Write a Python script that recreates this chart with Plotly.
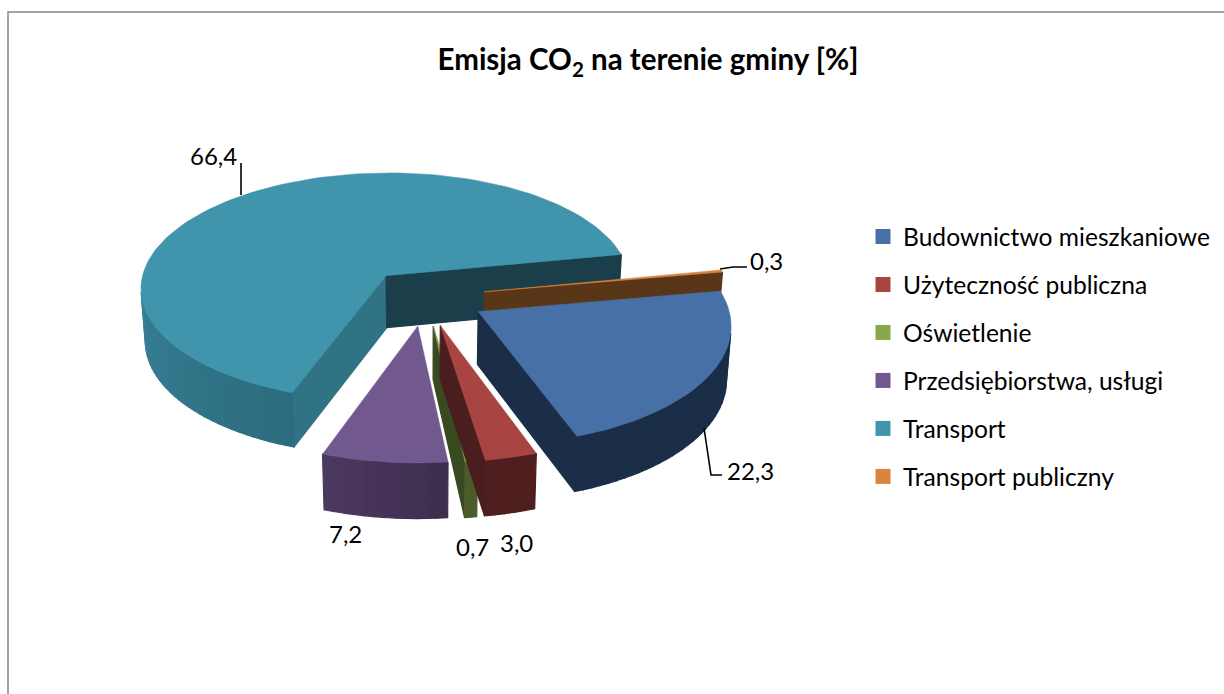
import math
import plotly.graph_objects as go

# ---- data ----
categories = ["Budownictwo mieszkaniowe", "Użyteczność publiczna", "Oświetlenie",
              "Przedsiębiorstwa, usługi", "Transport", "Transport publiczny"]
values = [22.3, 3.0, 0.7, 7.2, 66.4, 0.3]
title_text = "<b>Emisja CO<sub>2</sub> na terenie gminy [%]</b>"

# ---- styles ----
top_colors = ["#4670A6", "#A84442", "#89A84E", "#71588F", "#4095AD", "#DB843D"]
start_wall_colors = ["#1B2E48", "#4A1E1E", "#3A4A20", "#3B2E50", "#307385", "#5A3618"]
end_wall_colors = ["#1B2E48", "#4A1E1E", "#3A4A20", "#3B2E50", "#1A3E4A", "#5A3618"]
rim_from = ["#1B2E48", "#4E1F1E", "#4A5C2A", "#3D2E4E", "#2D6C7E", "#5A3618"]
rim_to = ["#1B2E48", "#4E1F1E", "#4A5C2A", "#4D3A61", "#3C8BA3", "#5A3618"]
paint_order = [4, 5, 0, 3, 2, 1]
FONT = "Lato"

# ---- projection of the tilted, exploded disc ----
CX, CY, A, B, K = 425.0, 297.0, 248.0, 117.0, 0.0994
EXPLODE, FIRST_ANGLE = 0.245, 80.0


def project(u, v, low=False):
    d = 1 + K * v
    X, Y = CX + A * u / d, CY - B * v / d
    if low:
        X = CX + (X - CX) * 0.985
        Y += 52.5 - 2.5 * v
    return X, Y


def mix(c1, c2, t):
    a = [int(c1[i:i + 2], 16) for i in (1, 3, 5)]
    b = [int(c2[i:i + 2], 16) for i in (1, 3, 5)]
    return "rgb(%d,%d,%d)" % tuple(round(p + (q - p) * t) for p, q in zip(a, b))


fig = go.Figure()


def poly(points, color, width=1.2):
    xs, ys = zip(*points)
    fig.add_trace(go.Scatter(x=list(xs) + [xs[0]], y=list(ys) + [ys[0]], mode="lines",
                             fill="toself", fillcolor=color,
                             line=dict(color=color, width=width),
                             hoverinfo="skip", showlegend=False))


def face(p, q, color):
    quad = [project(*p), project(*q), project(*q, low=True), project(*p, low=True)]
    area = sum(quad[m][0] * quad[(m + 1) % 4][1] - quad[(m + 1) % 4][0] * quad[m][1] for m in range(4))
    if area < 0:  # faces turned away from the viewer stay hidden
        poly(quad, color)


total = sum(values)
starts, a0 = [], FIRST_ANGLE
for val in values:
    starts.append(a0)
    a0 += val / total * 360.0

for i in paint_order:
    start, sweep = starts[i], values[i] / total * 360.0
    mid = math.radians(start + sweep / 2)
    ou, ov = EXPLODE * math.sin(mid), EXPLODE * math.cos(mid)
    n = max(2, int(sweep / 2))
    arc = [math.radians(start + sweep * j / n) for j in range(n + 1)]
    rim = [(ou + math.sin(t), ov + math.cos(t)) for t in arc]
    apex = (ou, ov)

    face(apex, rim[0], start_wall_colors[i])
    face(rim[-1], apex, end_wall_colors[i])
    for j in range(n):
        t = j / n if i != 4 else min(1, 2.4 * j / n)
        face(rim[j], rim[j + 1], mix(rim_from[i], rim_to[i], t))
    poly([project(*apex)] + [project(*p) for p in rim], top_colors[i], width=0.5)

# legend entries
for i, name in enumerate(categories):
    fig.add_trace(go.Scatter(x=[None], y=[None], mode="markers", name=name, legendgroup=name,
                             marker=dict(symbol="square", size=15, color=top_colors[i])))

labels = ["%.1f" % v for v in values]
labels = [s.replace(".", ",") for s in labels]
label_pos = [(750, 470), (516, 542), (472, 546), (345, 533), (213, 155), (766, 260)]
for s, (lx, ly) in zip(labels, label_pos):
    fig.add_annotation(x=lx, y=ly, text=s, showarrow=False, xanchor="center", yanchor="middle",
                       font=dict(family=FONT, size=24, color="#000000"))

leader = dict(type="path", line=dict(color="#000000", width=1.6))
shapes = [
    dict(leader, path="M 241 163 L 241 195"),
    dict(leader, path="M 720 269 L 733 267 L 747 267"),
    dict(leader, path="M 704 428 L 711 475 L 722 475"),
    dict(type="path", path="M 1224 12 L 8 12 L 8 694", line=dict(color="#868686", width=1.5)),
]

fig.update_layout(
    width=1224, height=694, margin=dict(l=0, r=0, t=0, b=0),
    paper_bgcolor="#FFFFFF", plot_bgcolor="#FFFFFF", shapes=shapes,
    title=dict(text=title_text, x=648 / 1224, xanchor="center", y=1 - 60 / 694, yanchor="middle",
               font=dict(family=FONT, size=29.5, color="#000000")),
    xaxis=dict(range=[0, 1224], visible=False, fixedrange=True),
    yaxis=dict(range=[694, 0], visible=False, fixedrange=True),
    legend=dict(x=863 / 1224, y=1 - 214 / 694, xanchor="left", yanchor="top",
                font=dict(family=FONT, size=24.6, color="#000000"),
                tracegroupgap=13, bgcolor="rgba(0,0,0,0)", borderwidth=0),
    showlegend=True,
)

fig.write_html("out.html", config=dict(displayModeBar=False),
               post_script="document.body.style.margin='0';document.body.style.overflow='hidden';")
